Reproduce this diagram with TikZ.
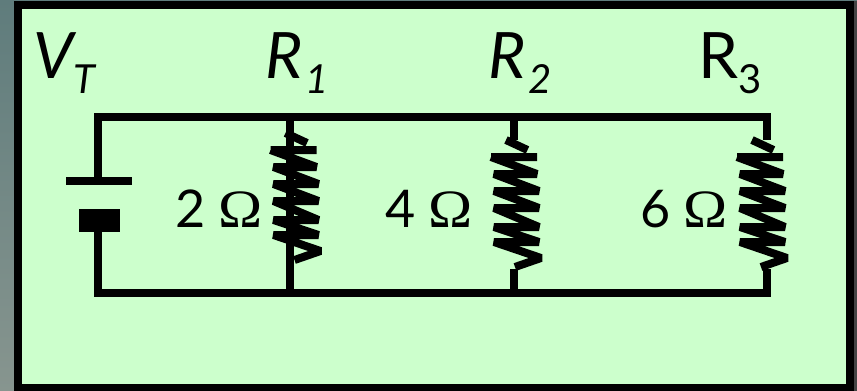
\documentclass[tikz,border=0pt]{standalone}
\usepackage{fontspec,graphicx}
\setmainfont{Lato}
\newfontfamily\omegafont{Liberation Serif}
\definecolor{panel}{HTML}{CCFFCC}
\definecolor{stripTop}{HTML}{5F7C7C}
\definecolor{stripBot}{HTML}{87958F}
\definecolor{stripRight}{HTML}{444444}
\tikzset{
  wire/.style={draw=black,line width=8pt,line cap=butt,line join=miter},
  coil/.style={draw=black,line width=8pt,line cap=butt,line join=bevel},
  big/.style={inner sep=0pt,outer sep=0pt,anchor=base west,text=black,font=\fontsize{64}{64}\selectfont},
  bigit/.style={big,font=\fontsize{64}{64}\selectfont\itshape},
  sub/.style={inner sep=0pt,outer sep=0pt,anchor=base west,text=black,font=\fontsize{40}{40}\selectfont},
  subit/.style={sub,font=\fontsize{40}{40}\selectfont\itshape},
  val/.style={inner sep=0pt,outer sep=0pt,anchor=base west,text=black,font=\fontsize{52}{52}\selectfont},
  resistorcoil/.pic={
    \draw[coil] (0,0) -- (21.5,10);
    \draw[coil] (-15,17) -- (31,17) (-15,17) -- (31,34) -- (-12,34) -- (33,51) -- (-12,51) -- (33,68) -- (-12,68) -- (33,87) -- (-12,87) -- (33,102) -- (-12,102) -- (35,118) -- (9,127);
  }
}
\newcommand{\ohm}{\scalebox{1.1}[1]{\omegafont\fontsize{54}{54}\selectfont Ω}}
\begin{document}
\begin{tikzpicture}[x=1pt,y=-1pt]
\useasboundingbox (0,0) rectangle (857,391);
\shade[top color=stripTop,bottom color=stripBot] (0,0) rectangle (14,391);
\fill[stripTop] (0,0) rectangle (857,1);
\fill[stripRight] (852,1) rectangle (857,391);
\draw[draw=black,line width=8pt,fill=panel] (18,5) rectangle (849.5,388);
% junction points
\coordinate (tl) at (98,117); \coordinate (bl) at (98,293);
\coordinate (t1) at (290,117); \coordinate (b1) at (290,293);
\coordinate (t2) at (514,117); \coordinate (b2) at (514,293);
\coordinate (t3) at (767,117); \coordinate (b3) at (767,293);
\coordinate (batA) at (98,181); \coordinate (batB) at (98,220);
\coordinate (plateAl) at (66,181); \coordinate (plateAr) at (132,181);
\coordinate (plateBl) at (79,220.5); \coordinate (plateBr) at (120,220.5);
\coordinate (r2a) at (514,140); \coordinate (r2b) at (514,269);
\coordinate (r3a) at (767,140); \coordinate (r3b) at (767,269);
% wires
\draw[wire] (batA) -- (tl) -- (t1) -- (t2) -- (t3) -- (r3a);
\draw[wire] (batB) -- (bl) -- (b1) -- (b2) -- (b3) -- (r3b);
\draw[wire] (t1) -- (b1);
\draw[wire] (t2) -- (r2a);
\draw[wire] (b2) -- (r2b);
% battery
\draw[wire] (plateAl) -- (plateAr);
\draw[draw=black,line width=23pt] (plateBl) -- (plateBr);
% resistors
\pic at (285.5,133) {resistorcoil};
\pic at (506,140) {resistorcoil};
\pic at (752,140) {resistorcoil};
% labels
\node[bigit] (vt) at (33,78) {V};
\node[subit] (vts) at (73,93) {T};
\node[bigit] (r1) at (265,78) {R};
\node[subit] (r1s) at (305,93) {1};
\node[bigit] (r2) at (488,78) {R};
\node[subit] (r2s) at (528,93) {2};
\node[big] (r3) at (698,78) {R};
\node[sub] (r3s) at (738,93) {3};
\node[val] (v1) at (175,227) {2 \ohm};
\node[val] (v2) at (385,227) {4 \ohm};
\node[val] (v3) at (640,227) {6 \ohm};
\end{tikzpicture}
\end{document}
